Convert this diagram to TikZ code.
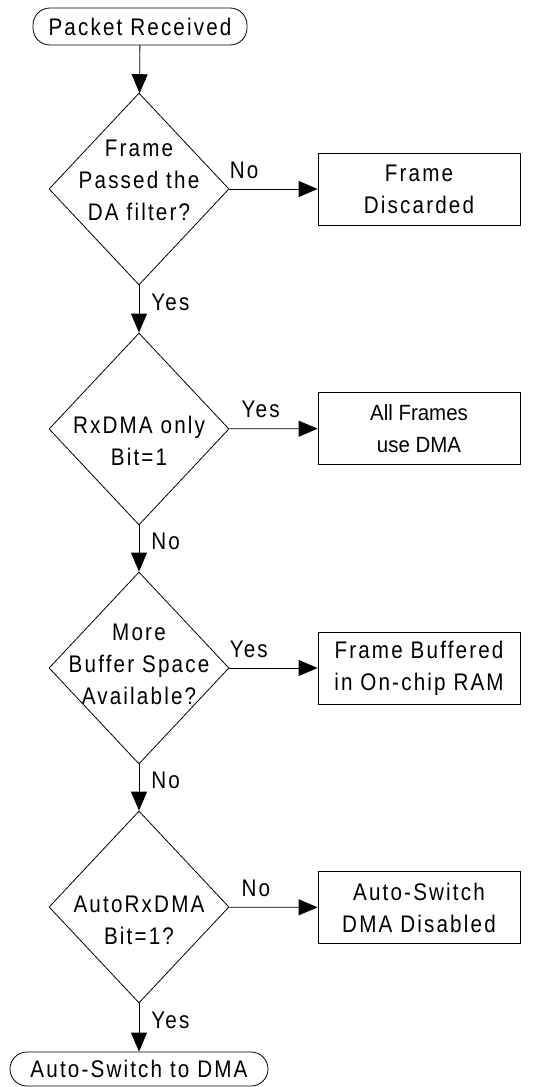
\documentclass[tikz,border=0pt]{standalone}
\usepackage{fontspec}
\setmainfont{Liberation Sans}[FakeStretch=0.86,LetterSpace=9]
\newfontfamily\narrowfont{Liberation Sans}[FakeStretch=0.93]
\usetikzlibrary{shapes,arrows.meta}

\tikzset{
  term/.style={rectangle, draw, rounded corners=17pt, minimum height=37pt, inner sep=0pt},
  test/.style={diamond, draw, minimum width=180pt, minimum height=192pt, inner sep=0pt},
  outbox/.style={rectangle, draw, minimum width=202pt, minimum height=72pt, align=center, inner sep=0pt},
  down/.style={pos=.35, anchor=west, inner sep=0pt, xshift=12pt},
  side/.style={pos=0, anchor=base west, inner sep=0pt, yshift=11pt},
  >={Triangle[length=19pt,width=16pt]}
}

\begin{document}
\begin{tikzpicture}[x=1pt, y=-1pt, line width=0.8pt, font=\fontsize{24}{32}\selectfont]
		\useasboundingbox (0,0) rectangle (559,1087);
		\path (140, 26.5) node[term, minimum width=214pt] (start) {Packet Received}
  		(139, 189) node[test, label={[align=center, yshift=9pt]center:{Frame\\Passed the\\DA filter?}}] (filter) {}
  		(139, 429) node[test, label={[align=center, yshift=-12pt]center:{RxDMA only\\Bit=1}}] (rxonly) {}
  		(139, 668) node[test, label={[align=center, yshift=4pt]center:{More\\Buffer Space\\Available?}}] (space) {}
  		(139, 907) node[test, label={[align=center, yshift=-13pt]center:{AutoRxDMA\\Bit=1?}}] (auto) {}
  		(139, 1069) node[term, minimum width=258pt, minimum height=34pt] (dma) {Auto-Switch to DMA}
  		(419, 189) node[outbox] (discard) {Frame\\Discarded}
  		(419, 428.5) node[outbox, font=\narrowfont\fontsize{22}{32}\selectfont] (alldma) {All Frames\\use DMA}
  		(419, 668) node[outbox] (buffer) {Frame Buffered\\in On-chip RAM}
  		(419, 907.5) node[outbox] (disabled) {Auto-Switch\\DMA Disabled};

		\draw[->] (start) -- (filter);
		\draw[->] (filter) -- node[down] {Yes} (rxonly);
		\draw[->] (rxonly) -- node[down] {No} (space);
		\draw[->] (space) -- node[down] {No} (auto);
		\draw[->] (auto) -- node[down] {Yes} (dma);
		\draw[->] (filter) -- node[side] {No} (discard);
		\draw[->] (rxonly) -- node[side, xshift=12pt] {Yes} (alldma);
		\draw[->] (space) -- node[side] {Yes} (buffer);
		\draw[->] (auto) -- node[side, xshift=12pt] {No} (disabled);
	\end{tikzpicture}
\end{document}
